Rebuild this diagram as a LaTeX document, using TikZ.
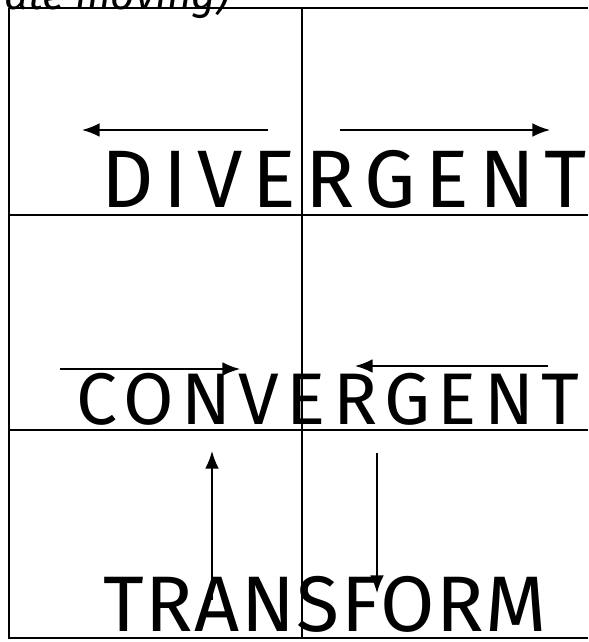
\documentclass[tikz,border=0pt]{standalone}
\usepackage{fontspec}
\setmainfont{Fira Sans}
\usepackage{tikz}
\usetikzlibrary{arrows, arrows.meta, positioning, calc}

\begin{document}
\begin{tikzpicture}[
    x=0.025cm, y=-0.025cm,
    gridline/.style={draw=black, line width=0.9pt},
    motion/.style={-{Latex[length=4.4mm, width=3.4mm]}, line width=1.1pt},
    word/.style={anchor=base, inner sep=0pt, font=\fontsize{#1}{#1}\selectfont},
    note/.style={anchor=base west, inner sep=0pt, font=\fontsize{30}{32}\selectfont\itshape}
]
\useasboundingbox (0,0) rectangle (588,642);
\clip (0,0) rectangle (588,642);

% table of boundaries
\coordinate (tl) at (9,8);
\coordinate (tr) at (588,8);
\coordinate (bl) at (9,638);
\coordinate (br) at (588,638);
\draw[gridline] (tl) -- (tr);
\draw[gridline] (tl) -- (bl) -- (br);
\draw[gridline] (302,8) -- (302,638);
\draw[gridline] (9,215) -- (588,215);
\draw[gridline] (9,430) -- (588,430);

\node[note] (title) at (4,10) {ate moving)};

% divergent
\coordinate (divL) at (268,130);
\coordinate (divLtip) at (82,130);
\coordinate (divR) at (340,130);
\coordinate (divRtip) at (550,130);
\draw[motion] (divL) -- (divLtip);
\draw[motion] (divR) -- (divRtip);
\node[word=58] (divergent) at (344,208) {\addfontfeatures{LetterSpace=12}DIVERGENT};

% convergent
\coordinate (conL) at (60,369);
\coordinate (conLtip) at (240,369);
\coordinate (conR) at (548,366);
\coordinate (conRtip) at (355,366);
\draw[motion] (conL) -- (conLtip);
\draw[motion] (conR) -- (conRtip);
\node[word=52] (convergent) at (328,424) {\addfontfeatures{LetterSpace=10}CONVERGENT};

% transform
\coordinate (trU) at (212,600);
\coordinate (trUtip) at (212,451);
\coordinate (trD) at (377,453);
\coordinate (trDtip) at (377,593);
\draw[motion] (trU) -- (trUtip);
\draw[motion] (trD) -- (trDtip);
\node[word=56] (transform) at (325,631) {\addfontfeatures{LetterSpace=2}TRANSFORM};
\end{tikzpicture}
\end{document}
